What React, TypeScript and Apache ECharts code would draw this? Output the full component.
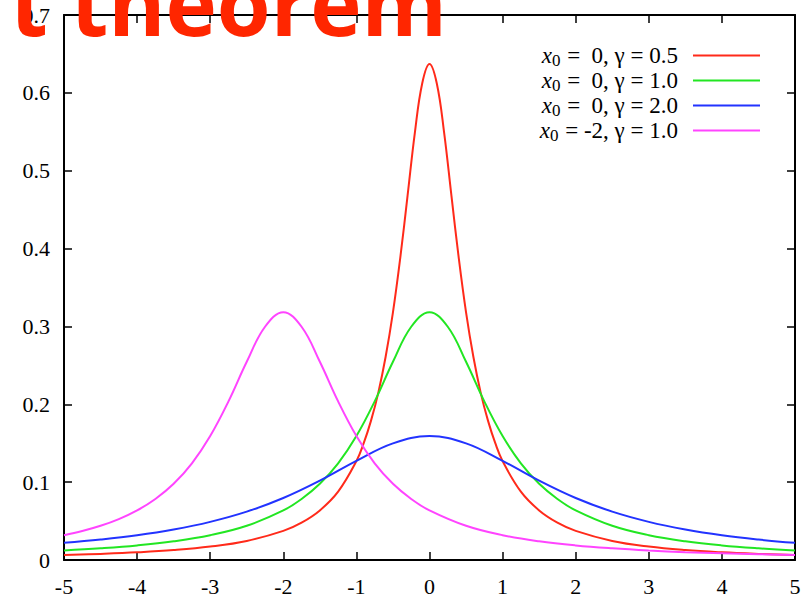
import React, { useEffect, useRef } from "react";
import * as echarts from "echarts";

// Curve values
const redX = [-5, -4.5, -4, -3.5, -3, -2.5, -2, -1.75, -1.5, -1.25, -1, -0.9, -0.8, -0.7, -0.6, -0.5, -0.4, -0.3, -0.2, -0.1, 0, 0.1, 0.2, 0.3, 0.4, 0.5, 0.6, 0.7, 0.8, 0.9, 1, 1.25, 1.5, 1.75, 2, 2.5, 3, 3.5, 4, 4.5, 5];
const redY = [0.0063, 0.0078, 0.0098, 0.0127, 0.0172, 0.0245, 0.0374, 0.048, 0.0637, 0.0878, 0.127, 0.150, 0.179, 0.215, 0.261, 0.318, 0.388, 0.468, 0.549, 0.612, 0.637, 0.612, 0.549, 0.468, 0.388, 0.318, 0.261, 0.215, 0.179, 0.150, 0.127, 0.0878, 0.0637, 0.048, 0.0374, 0.0245, 0.0172, 0.0127, 0.0098, 0.0078, 0.0063];

const greenX = [-5, -4.5, -4, -3.5, -3, -2.5, -2, -1.75, -1.5, -1.25, -1, -0.75, -0.5, -0.25, 0, 0.25, 0.5, 0.75, 1, 1.25, 1.5, 1.75, 2, 2.5, 3, 3.5, 4, 4.5, 5];
const greenY = [0.0122, 0.015, 0.0187, 0.024, 0.0318, 0.0439, 0.0637, 0.0784, 0.0979, 0.1242, 0.1592, 0.2037, 0.2546, 0.2996, 0.3183, 0.2996, 0.2546, 0.2037, 0.1592, 0.1242, 0.0979, 0.0784, 0.0637, 0.0439, 0.0318, 0.024, 0.0187, 0.015, 0.0122];

const blueX = [-5, -4.5, -4, -3.5, -3, -2.5, -2, -1.5, -1, -0.5, 0, 0.5, 1, 1.5, 2, 2.5, 3, 3.5, 4, 4.5, 5];
const blueY = [0.022, 0.0263, 0.0318, 0.0392, 0.049, 0.0621, 0.0796, 0.1019, 0.1273, 0.1498, 0.1592, 0.1498, 0.1273, 0.1019, 0.0796, 0.0621, 0.049, 0.0392, 0.0318, 0.0263, 0.022];

const magentaX = [-5, -4.75, -4.5, -4.25, -4, -3.75, -3.5, -3.25, -3, -2.75, -2.5, -2.25, -2, -1.75, -1.5, -1.25, -1, -0.75, -0.5, -0.25, 0, 0.5, 1, 1.5, 2, 2.5, 3, 3.5, 4, 4.5, 5];
const magentaY = [0.0318, 0.0372, 0.0439, 0.0525, 0.0637, 0.0784, 0.0979, 0.1242, 0.1592, 0.2037, 0.2546, 0.2996, 0.3183, 0.2996, 0.2546, 0.2037, 0.1592, 0.1242, 0.0979, 0.0784, 0.0637, 0.0439, 0.0318, 0.024, 0.0187, 0.015, 0.0122, 0.0101, 0.0086, 0.0074, 0.0064];

// Legend parameters
const legendX0 = ["0", "0", "0", "-2"];
const legendGamma = ["0.5", "1.0", "2.0", "1.0"];
const seriesColors = ["#ff2a1a", "#22e622", "#2233ff", "#ff44ff"];

const xTicks = { min: -5, max: 5, interval: 1 };
const yTicks = { min: 0, max: 0.7, interval: 0.1 };

const titleText = "t theorem";

const seriesNames = legendX0.map((x0, i) => `x0 = ${x0}, γ = ${legendGamma[i]}`);

function pairs(xs: number[], ys: number[]) {
  return xs.map((x, i) => [x, ys[i]]);
}

export default function App() {
  const ref = useRef<HTMLDivElement>(null);
  useEffect(() => {
    if (!ref.current) return;
    const chart = echarts.init(ref.current, null, { renderer: "svg" });
    const serif = "'Liberation Serif', 'DejaVu Serif', serif";
    const data = [pairs(redX, redY), pairs(greenX, greenY), pairs(blueX, blueY), pairs(magentaX, magentaY)];
    const tick = { show: true, inside: true, length: 8, lineStyle: { color: "#000", width: 1.5 } };
    const line = { show: true, onZero: false, lineStyle: { color: "#000", width: 2 } };
    chart.setOption({
      animation: false,
      backgroundColor: "#fff",
      grid: { left: 64, right: 16, top: 15, bottom: 38, containLabel: false },
      xAxis: [
        {
          type: "value", ...xTicks, position: "bottom",
          axisLine: line, axisTick: tick, splitLine: { show: false },
          axisLabel: { color: "#000", fontFamily: serif, fontSize: 22, margin: 15 },
        },
        {
          type: "value", ...xTicks, position: "top",
          axisLine: line, axisTick: tick, splitLine: { show: false },
          axisLabel: { show: false },
        },
      ],
      yAxis: [
        {
          type: "value", ...yTicks, position: "left",
          axisLine: line, axisTick: tick, splitLine: { show: false },
          axisLabel: {
            color: "#000", fontFamily: serif, fontSize: 22, margin: 14,
            formatter: (v: number) => (v === 0 ? "0" : v.toFixed(1)),
          },
        },
        {
          type: "value", ...yTicks, position: "right",
          axisLine: line, axisTick: tick, splitLine: { show: false },
          axisLabel: { show: false },
        },
      ],
      legend: {
        orient: "vertical",
        align: "right",
        right: 51,
        top: 42,
        padding: 0,
        itemGap: -2,
        itemWidth: 67,
        itemHeight: 2,
        icon: "rect",
        data: seriesNames,
        formatter: (name: string) => {
          const i = seriesNames.indexOf(name);
          const x0 = legendX0[i];
          const pad = x0.startsWith("-") ? " " : "  ";
          return `{x|x}{s|0}{t| =${pad}${x0}, γ = ${legendGamma[i]}}`;
        },
        textStyle: {
          color: "#000",
          fontFamily: serif,
          fontSize: 23,
          rich: {
            x: { fontFamily: serif, fontSize: 23, fontStyle: "italic", color: "#000", lineHeight: 22 },
            s: { fontFamily: serif, fontSize: 17, color: "#000", lineHeight: 8, padding: [10, 1, 0, 0] },
            t: { fontFamily: serif, fontSize: 23, color: "#000", lineHeight: 22, padding: [0, 10, 0, 0] },
          },
        },
      },
      series: data.map((d, i) => ({
        type: "line",
        name: seriesNames[i],
        data: d,
        smooth: 0.4,
        symbol: "none",
        showSymbol: false,
        color: seriesColors[i],
        lineStyle: { color: seriesColors[i], width: 2 },
        xAxisIndex: 0,
        yAxisIndex: 0,
      })),
      graphic: [
        {
          type: "text",
          z: 100,
          x: 447,
          y: 45,
          style: {
            text: titleText,
            align: "right",
            verticalAlign: "bottom",
            fontFamily: "'Open Sans', 'Noto Sans', sans-serif",
            fontWeight: "bold",
            fontSize: 87,
            fill: "#ff2600",
          },
        },
      ],
    });
    return () => chart.dispose();
  }, []);
  return <div ref={ref} style={{ position: "fixed", left: 0, top: 0, width: 811, height: 598 }} />;
}
